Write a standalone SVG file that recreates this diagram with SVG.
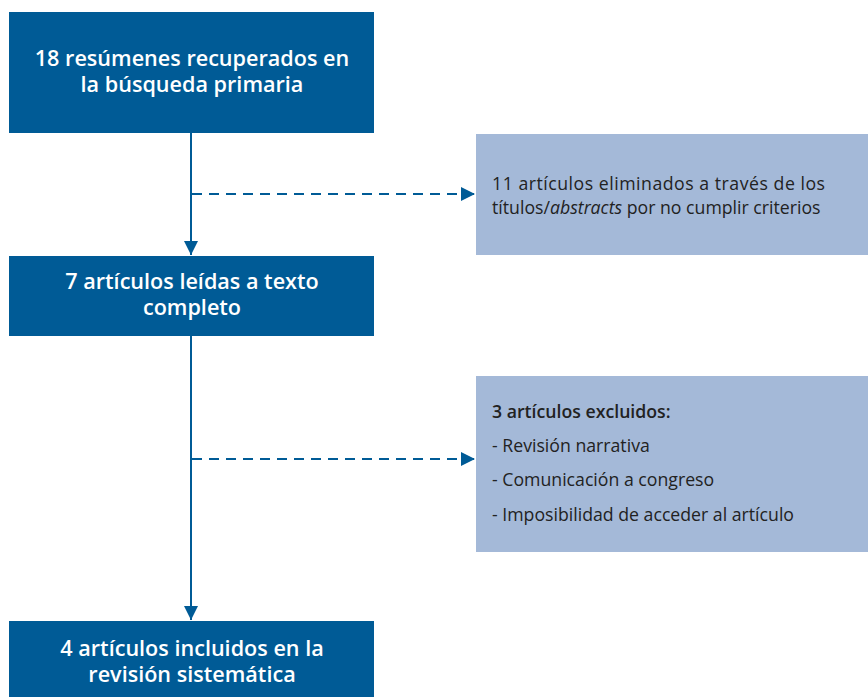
<svg xmlns="http://www.w3.org/2000/svg" width="868" height="697" viewBox="0 0 868 697">
<style>
.dark{fill:#005b96}
.light{fill:#a4b9d8}
.t{font-family:"Open Sans","DejaVu Sans",sans-serif;font-size:21.6px;font-weight:600;fill:#fff;text-anchor:middle}
.s{font-family:"Open Sans","DejaVu Sans",sans-serif;font-size:17.7px;fill:#222}
.b{font-weight:600}
.ln{stroke:#005b96;stroke-width:2;fill:none}
.dash{stroke-dasharray:10 7}
</style>
<defs>
<marker id="ah" viewBox="0 0 10 10" refX="10" refY="5" markerWidth="14" markerHeight="14" markerUnits="userSpaceOnUse" orient="auto">
<path d="M0,0 L10,5 L0,10 Z" fill="#005b96"/>
</marker>
</defs>
<g id="n1">
<rect class="dark" x="9" y="12" width="365" height="121"/>
<text class="t" x="192" y="66">18 resúmenes recuperados en</text>
<text class="t" x="192" y="92">la búsqueda primaria</text>
</g>
<g id="n2">
<rect class="dark" x="9" y="256" width="365" height="80"/>
<text class="t" x="192" y="289">7 artículos leídas a texto</text>
<text class="t" x="192" y="315">completo</text>
</g>
<g id="n3">
<rect class="dark" x="9" y="621" width="365" height="76"/>
<text class="t" x="192" y="656">4 artículos incluidos en la</text>
<text class="t" x="192" y="682">revisión sistemática</text>
</g>
<g id="e1">
<rect class="light" x="476" y="134" width="392" height="121"/>
<text class="s" x="492" y="190" textLength="333" lengthAdjust="spacing">11 artículos eliminados a través de los</text>
<text class="s" x="492" y="214">títulos/<tspan font-style="italic">abstracts</tspan> por no cumplir criterios</text>
</g>
<g id="e2">
<rect class="light" x="476" y="376" width="392" height="176"/>
<text class="s b" x="492" y="418">3 artículos excluidos:</text>
<text class="s" x="492" y="452">- Revisión narrativa</text>
<text class="s" x="492" y="486">- Comunicación a congreso</text>
<text class="s" x="492" y="521">- Imposibilidad de acceder al artículo</text>
</g>
<g id="connectors">
<line class="ln" x1="191" y1="133" x2="191" y2="255" marker-end="url(#ah)"/>
<line class="ln dash" x1="192" y1="194" x2="475" y2="194" marker-end="url(#ah)"/>
<line class="ln" x1="191" y1="336" x2="191" y2="620" marker-end="url(#ah)"/>
<line class="ln dash" x1="192" y1="459" x2="475" y2="459" marker-end="url(#ah)"/>
</g>
</svg>
